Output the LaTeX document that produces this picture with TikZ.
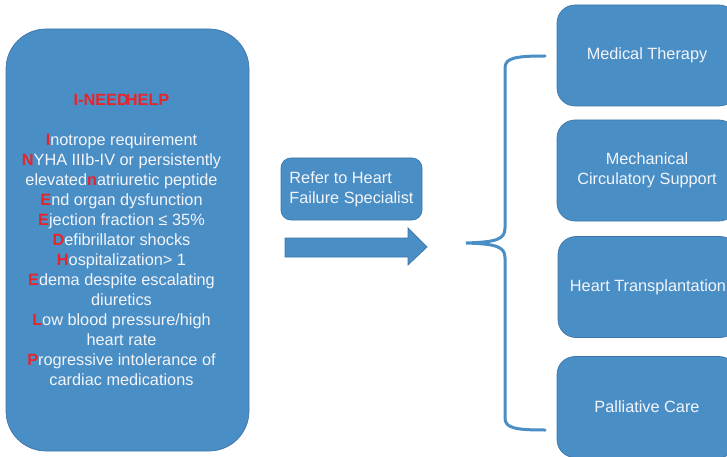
\documentclass[tikz,border=0pt]{standalone}
\usepackage{fontspec}
\setmainfont{Liberation Sans}
\definecolor{boxblue}{RGB}{74,142,198}
\definecolor{boxedge}{RGB}{62,118,168}
\definecolor{letterred}{RGB}{232,36,42}
\definecolor{paletext}{RGB}{243,245,249}
\newcommand{\capred}[1]{{\color{letterred}\bfseries #1}}
\begin{document}
\begin{tikzpicture}[x=1pt, y=-1pt,
  card/.style={draw=boxedge, line width=0.7pt, fill=boxblue, rounded corners=#1},
  card/.default=18pt,
  label/.style={text=paletext, font=\fontsize{16.3}{20}\selectfont, align=center},
  option/.style={card, label, minimum width=180pt, minimum height=101pt}]
  \useasboundingbox (0,0) rectangle (727,457);
  \node[card=40pt, minimum width=243pt, minimum height=422pt] (crit) at (127.5,240) {};
  \node[label] (critlist) at ([xshift=-6pt]crit.center) {%
    \capred{I-NEED\kern-3pt HELP}\\[20pt]
    \capred{I}notrope requirement\\
    \capred{N}YHA IIIb-IV or persistently\\
    elevated\capred{n}atriuretic peptide\\
    \capred{E}nd organ dysfunction\\
    \capred{E}jection fraction ≤ 35\%\\
    \capred{D}efibrillator shocks\\
    \capred{H}ospitalization> 1\\
    \capred{E}dema despite escalating\\
    diuretics\\
    \capred{L}ow blood pressure/high\\
    heart rate\\
    \capred{P}rogressive intolerance of\\
    cardiac medications};
  \node[card=10pt, label, align=left, minimum width=141pt, minimum height=62pt] (refer) at (351.5,189)
    {Refer to Heart\\Failure Specialist};
  \draw[draw=boxedge, line width=0.7pt, fill=boxblue]
    (285,238) -- (408,238) -- (408,228) -- (427,247) -- (408,265) -- (408,257) -- (285,257) -- cycle;
  \draw[boxblue, line width=3pt, line cap=round]
    (545,56) .. controls (515,56) and (505,58) .. (505,68) -- (505,228)
    .. controls (505,240) and (495,242) .. (466,243)
    .. controls (495,244) and (505,246) .. (505,258) -- (505,418)
    .. controls (505,428) and (515,430) .. (545,430);
  \node[option] (medical) at (647,55.5) {Medical Therapy};
  \node[option] (mcs) at (647,170.5) {Mechanical\\Circulatory Support};
  \node[option] (transplant) at (648,287) {Heart Transplantation};
  \node[option] (palliative) at (647,407) {Palliative Care};
\end{tikzpicture}
\end{document}
